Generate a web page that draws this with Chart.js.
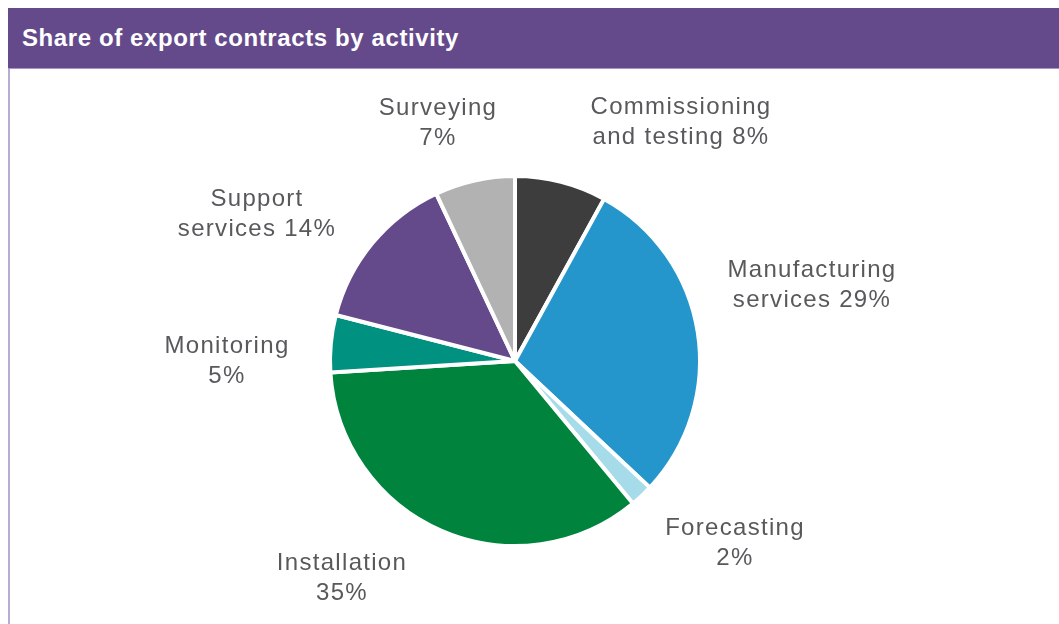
<!DOCTYPE html>
<html>
<head>
<meta charset="utf-8">
<title>Share of export contracts by activity</title>
<script src="https://cdn.jsdelivr.net/npm/chart.js@4.4.1/dist/chart.umd.min.js"></script>
<style>
  html, body { margin: 0; padding: 0; background: #ffffff; }
  body { width: 1059px; height: 624px; position: relative; overflow: hidden; }
  #header {
    position: absolute; left: 8px; top: 8px; width: 1051px; height: 61px;
    background: #644a8b; border-bottom: 1px solid #a697c2; box-sizing: border-box;
    color: #ffffff; font: bold 24px "Liberation Sans", Arial, sans-serif;
    letter-spacing: 0.6px; line-height: 60px; padding-left: 14px;
  }
  #panel {
    position: absolute; left: 8px; top: 69px; width: 1051px; height: 555px;
    border-left: 2px solid #b9acd2; box-sizing: border-box;
  }
  #chartBox { position: relative; width: 1049px; height: 555px; }
</style>
</head>
<body>
<div id="header">Share of export contracts by activity</div>
<div id="panel">
  <div id="chartBox"><canvas id="activityChart"></canvas></div>
</div>
<script>
// Activities, clockwise from 12 o'clock
var activities = [
    'Commissioning and testing',
    'Manufacturing services',
    'Forecasting',
    'Installation',
    'Monitoring',
    'Support services',
    'Surveying'
];
var shares = [8, 29, 2, 35, 5, 14, 7];
var sliceColors = ['#3d3d3d', '#2596cc', '#a6dce9', '#00843d', '#009181', '#644a8b', '#b2b2b2'];

// Where each label block sits, as offsets from the pie centre
var labelOffsets = [
    [166, -239],
    [297, -76],
    [220, 182],
    [-173, 217],
    [-288, 0],
    [-258, -147],
    [-77, -238]
];

// First word on line one, the rest plus the percentage on line two
function labelLines(name, value) {
    var words = name.split(' ');
    var rest = words.slice(1).join(' ');
    return [words[0], (rest ? rest + ' ' : '') + value + '%'];
}

var outsideLabels = {
    id: 'outsideLabels',
    afterDraw: function(chart) {
        var ctx = chart.ctx;
        var arc = chart.getDatasetMeta(0).data[0];
        var cx = arc.x, cy = arc.y;
        ctx.save();
        ctx.font = '24px "Liberation Sans", Arial, sans-serif';
        ctx.letterSpacing = '1.3px';
        ctx.fillStyle = '#58595b';
        ctx.textAlign = 'center';
        ctx.textBaseline = 'middle';
        chart.data.labels.forEach(function(name, i) {
            var lines = labelLines(name, chart.data.datasets[0].data[i]);
            var x = cx + labelOffsets[i][0];
            var y = cy + labelOffsets[i][1];
            ctx.fillText(lines[0], x, y - 15);
            ctx.fillText(lines[1], x, y + 15);
        });
        ctx.restore();
    }
};

document.addEventListener('DOMContentLoaded', function() {
    var ctx = document.getElementById('activityChart').getContext('2d');
    new Chart(ctx, {
        type: 'pie',
        data: {
            labels: activities,
            datasets: [{
                data: shares,
                backgroundColor: sliceColors,
                borderColor: '#ffffff',
                borderWidth: 4
            }]
        },
        options: {
            responsive: true,
            maintainAspectRatio: false,
            animation: false,
            radius: 185,
            layout: { padding: { left: 0, right: 39, top: 29, bottom: 0 } },
            plugins: {
                legend: { display: false },
                tooltip: { enabled: false }
            }
        },
        plugins: [outsideLabels]
    });
});
</script>
</body>
</html>
